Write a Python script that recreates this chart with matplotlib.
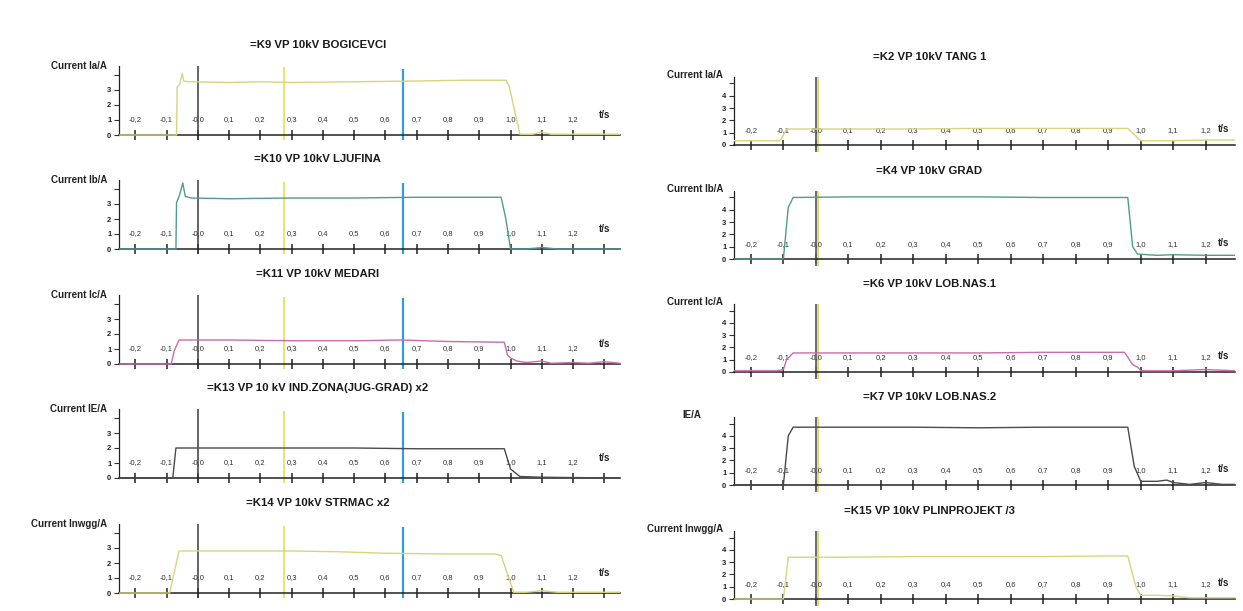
import matplotlib
matplotlib.use('Agg')
import matplotlib.pyplot as plt

plt.rcParams['font.family'] = ['Liberation Sans', 'DejaVu Sans']

# ---- data ----
tick_t = [-0.2, -0.1, 0.0, 0.1, 0.2, 0.3, 0.4, 0.5, 0.6, 0.7, 0.8, 0.9, 1.0, 1.1, 1.2, 1.3]
tick_lbl = ['-0,2', '-0,1', '-0,0', '0,1', '0,2', '0,3', '0,4', '0,5', '0,6',
            '0,7', '0,8', '0,9', '1,0', '1,1', '1,2', '']

left_titles = ['=K9 VP 10kV BOGICEVCI', '=K10 VP 10kV LJUFINA', '=K11 VP 10kV MEDARI',
               '=K13 VP 10 kV IND.ZONA(JUG-GRAD) x2', '=K14 VP 10kV STRMAC x2']
right_titles = ['=K2 VP 10kV TANG 1', '=K4 VP 10kV GRAD', '=K6 VP 10kV LOB.NAS.1',
                '=K7 VP 10kV LOB.NAS.2', '=K15 VP 10kV PLINPROJEKT /3']
left_ylabels = ['Current Ia/A', 'Current Ib/A', 'Current Ic/A', 'Current IE/A', 'Current Inwgg/A']
right_ylabels = ['Current Ia/A', 'Current Ib/A', 'Current Ic/A', 'IE/A', 'Current Inwgg/A']

# cursors (s)
left_cursors = [0.0, 0.277, 0.655]
right_cursors = [0.0, 0.008]

# left column traces
k9_t = [-0.25, -0.068, -0.066, -0.058, -0.05, -0.045, -0.03, 0.1, 0.2, 0.3, 0.5, 0.7, 0.85, 0.985, 0.995, 1.03, 1.07, 1.1, 1.13, 1.2, 1.35]
k9_i = [0, 0, 3.2, 3.4, 4.1, 3.6, 3.55, 3.5, 3.55, 3.5, 3.55, 3.6, 3.65, 3.65, 3.3, 0.05, 0.05, 0.2, 0.05, 0.05, 0.05]
k10_t = [-0.25, -0.07, -0.068, -0.06, -0.048, -0.04, -0.02, 0.1, 0.3, 0.5, 0.7, 0.9, 0.97, 0.985, 1.0, 1.05, 1.1, 1.15, 1.35]
k10_i = [0, 0, 3.1, 3.5, 4.4, 3.5, 3.4, 3.35, 3.4, 3.4, 3.45, 3.45, 3.45, 2.0, 0.0, 0.0, 0.1, 0.0, 0.0]
k11_t = [-0.25, -0.085, -0.075, -0.06, 0.1, 0.3, 0.5, 0.65, 0.8, 0.98, 0.99, 1.0, 1.02, 1.05, 1.1, 1.13, 1.2, 1.25, 1.3, 1.35]
k11_i = [0, 0, 0.9, 1.6, 1.6, 1.55, 1.55, 1.6, 1.5, 1.45, 0.6, 0.4, 0.2, 0.1, 0.2, 0.05, 0.1, 0.05, 0.15, 0.05]
k13_t = [-0.25, -0.08, -0.07, 0.1, 0.3, 0.5, 0.7, 0.9, 0.98, 1.0, 1.03, 1.1, 1.35]
k13_i = [0, 0, 2.0, 2.0, 2.0, 2.0, 1.95, 1.95, 1.95, 0.6, 0.1, 0.05, 0.0]
k14_t = [-0.25, -0.09, -0.06, 0.1, 0.3, 0.45, 0.6, 0.8, 0.95, 0.97, 1.01, 1.05, 1.1, 1.15, 1.35]
k14_i = [0, 0, 2.8, 2.8, 2.8, 2.75, 2.65, 2.6, 2.6, 2.5, 0.05, 0.05, 0.15, 0.05, 0.05]

# right column traces
k2_t = [-0.25, -0.11, -0.1, -0.09, 0.1, 0.3, 0.5, 0.7, 0.9, 0.96, 0.99, 1.0, 1.1, 1.2, 1.29]
k2_i = [0.35, 0.35, 0.8, 1.3, 1.3, 1.3, 1.35, 1.35, 1.35, 1.35, 0.6, 0.35, 0.35, 0.4, 0.4]
k4_t = [-0.25, -0.1, -0.085, -0.07, 0.1, 0.3, 0.5, 0.7, 0.9, 0.96, 0.975, 0.99, 1.05, 1.1, 1.2, 1.29]
k4_i = [0, 0, 4.2, 5.0, 5.05, 5.05, 5.05, 5.0, 5.0, 5.0, 1.0, 0.4, 0.3, 0.35, 0.3, 0.3]
k6_t = [-0.25, -0.12, -0.1, -0.09, -0.07, 0.1, 0.3, 0.5, 0.7, 0.9, 0.95, 0.975, 0.99, 1.0, 1.1, 1.2, 1.29]
k6_i = [0.1, 0.1, 0.2, 1.0, 1.55, 1.55, 1.55, 1.55, 1.6, 1.6, 1.6, 0.6, 0.4, 0.1, 0.1, 0.2, 0.1]
k7_t = [-0.25, -0.1, -0.085, -0.07, 0.1, 0.3, 0.5, 0.7, 0.9, 0.96, 0.98, 1.0, 1.05, 1.08, 1.1, 1.15, 1.2, 1.25, 1.29]
k7_i = [0, 0, 4.0, 4.7, 4.7, 4.7, 4.65, 4.7, 4.7, 4.7, 1.5, 0.3, 0.3, 0.4, 0.2, 0.05, 0.2, 0.05, 0.05]
k15_t = [-0.25, -0.1, -0.085, 0.1, 0.3, 0.5, 0.7, 0.9, 0.96, 0.985, 1.0, 1.05, 1.1, 1.15, 1.29]
k15_i = [0, 0, 3.4, 3.4, 3.45, 3.45, 3.45, 3.5, 3.5, 1.0, 0.3, 0.3, 0.25, 0.1, 0.1]

left_traces = [(k9_t, k9_i), (k10_t, k10_i), (k11_t, k11_i), (k13_t, k13_i), (k14_t, k14_i)]
right_traces = [(k2_t, k2_i), (k4_t, k4_i), (k6_t, k6_i), (k7_t, k7_i), (k15_t, k15_i)]

YEL, TEAL, PINK, GREY = '#d8d47e', '#4f9c8c', '#cc6aae', '#4a4a4a'
trace_colors = [YEL, TEAL, PINK, GREY, YEL]

W, H = 1243., 611.
fig = plt.figure(figsize=(12.43, 6.11), dpi=100)
fig.patch.set_facecolor('white')


def panel(x0, x1, zero, unit, ylo, yhi, xhi, yticks, ylbls, lbl_y, ts_x, ts_y):
    bot = zero - ylo * unit      # ylo negative -> below zero line
    top = zero - yhi * unit
    ax = fig.add_axes([x0 / W, (H - bot) / H, (x1 - x0) / W, (bot - top) / H])
    ax.set_xlim(-0.252, xhi)
    ax.set_ylim(ylo, yhi)
    ax.patch.set_alpha(0)
    for s in ['top', 'right']:
        ax.spines[s].set_visible(False)
    ax.spines['bottom'].set_position(('data', 0))
    ax.spines['left'].set_bounds(0, yhi)
    ax.spines['bottom'].set_color('#222222')
    ax.spines['left'].set_color('#222222')
    ax.spines['bottom'].set_linewidth(1.1)
    ax.spines['left'].set_linewidth(0.9)
    tt = [t for t in tick_t if t <= xhi]
    ax.set_xticks(tt)
    ax.set_xticklabels([])
    ax.tick_params(axis='x', direction='inout', length=7, width=1.1, color='#222222')
    ax.set_yticks(yticks)
    ax.set_yticklabels(ylbls, fontsize=5.5, fontweight='bold', color='#222222')
    ax.tick_params(axis='y', direction='out', length=3.5, width=0.8, pad=2, color='#333333')
    for t, l in zip(tick_t, tick_lbl):
        if t <= xhi:
            ax.text(t, lbl_y, l, fontsize=5.5, ha='center', va='center', color='#333333')
    ax.text(ts_x, ts_y, 't/s', fontsize=7, fontweight='bold', ha='center', va='center', color='#222222')
    return ax


# left column
left_zero = [135, 249, 364, 478, 593]
for k in range(5):
    ax = panel(119, 620, left_zero[k], 15.0, -0.5, 4.6, 1.35, [0, 1, 2, 3, 4],
               ['0', '1', '2', '3', ''], 1.0, 1.3, 1.35)
    ax.vlines(left_cursors[0], -0.3, 4.6, color='#3a3a3a', lw=1.1, zorder=2)
    ax.vlines(left_cursors[1], -0.3, 4.5, color='#f0e070', lw=1.5, zorder=2)
    ax.vlines(left_cursors[2], -0.3, 4.4, color='#2f9fd6', lw=1.6, zorder=2)
    t, i = left_traces[k]
    ax.plot(t, i, color=trace_colors[k], lw=1.0, zorder=3)
    ax.text(0.397, 1.27, left_titles[k], transform=ax.transAxes, fontsize=8.2,
            fontweight='bold', ha='center', va='center', color='#1a1a1a')
    ax.text(-0.024, 1.0, left_ylabels[k], transform=ax.transAxes, fontsize=7,
            fontweight='bold', ha='right', va='center', color='#222222')

# right column
right_zero = [145, 259, 372, 485, 599]
for k in range(5):
    ax = panel(734, 1235, right_zero[k], 12.3, -0.6, 5.5, 1.29, [0, 1, 2, 3, 4, 5],
               ['0', '1', '2', '3', '4', ''], 1.2, 1.255, 1.3)
    ax.vlines(right_cursors[0], -0.8, 5.5, color='#55607a', lw=1.3, zorder=2)
    ax.vlines(right_cursors[1], -0.8, 5.5, color='#ecd860', lw=1.4, zorder=2)
    t, i = right_traces[k]
    ax.plot(t, i, color=trace_colors[k], lw=1.0, zorder=3)
    ax.text(0.39, 1.27, right_titles[k], transform=ax.transAxes, fontsize=8.2,
            fontweight='bold', ha='center', va='center', color='#1a1a1a')
    if right_ylabels[k] == 'IE/A':
        ax.text(-0.065, 1.03, right_ylabels[k], transform=ax.transAxes, fontsize=7,
                fontweight='bold', ha='right', va='center', color='#222222')
    else:
        ax.text(-0.022, 1.03, right_ylabels[k], transform=ax.transAxes, fontsize=7,
                fontweight='bold', ha='right', va='center', color='#222222')

fig.savefig('out.png', dpi=100)
plt.close('all')
